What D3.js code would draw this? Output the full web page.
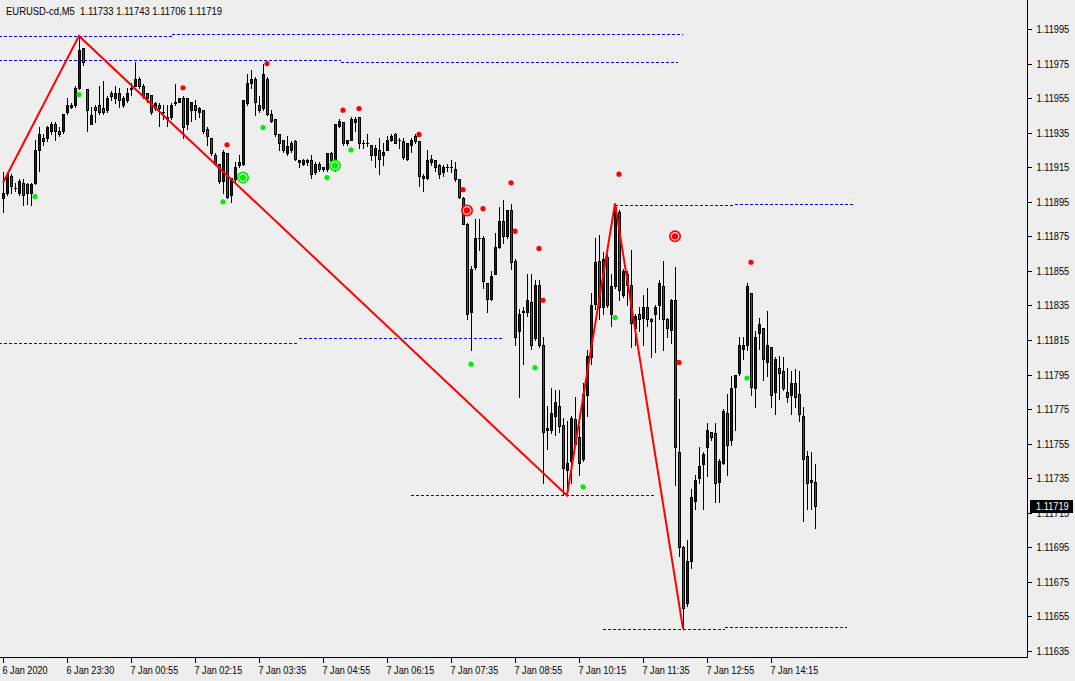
<!DOCTYPE html>
<html><head><meta charset="utf-8">
<script src="https://cdn.jsdelivr.net/npm/d3@7"></script>
<style>
html,body{margin:0;padding:0;background:#eeeeee;}
svg{display:block;}
text{font-family:"Liberation Sans",Arial,sans-serif;font-size:11px;fill:#000;}
</style></head><body>
<svg id="c" width="1075" height="681"></svg>
<script>
const symbol = "EURUSD-cd,M5";
const headerOHLC = [1.11733, 1.11743, 1.11706, 1.11719];
const timeLabels = ["6 Jan 2020","6 Jan 23:30","7 Jan 00:55","7 Jan 02:15","7 Jan 03:35","7 Jan 04:55","7 Jan 06:15","7 Jan 07:35","7 Jan 08:55","7 Jan 10:15","7 Jan 11:35","7 Jan 12:55","7 Jan 14:15"];
const timeLabelBars = [0,16,32,48,64,80,96,112,128,144,160,176,192];
const priceTicks = [1.11635,1.11655,1.11675,1.11695,1.11715,1.11735,1.11755,1.11775,1.11795,1.11815,1.11835,1.11855,1.11875,1.11895,1.11915,1.11935,1.11955,1.11975,1.11995];

const open = [
1.11897,1.11900,1.11910,1.11903,1.11900,1.11906,1.11905,1.11900,1.11906,1.11925,
1.11932,1.11932,1.11936,1.11940,1.11936,1.11936,1.11947,1.11950,1.11951,1.11961,
1.11984,1.11960,1.11940,1.11950,1.11951,1.11949,1.11948,1.11958,1.11955,1.11958,
1.11951,1.11954,1.11960,1.11962,1.11966,1.11962,1.11958,1.11957,1.11949,1.11951,
1.11947,1.11944,1.11944,1.11952,1.11953,1.11955,1.11940,1.11948,1.11951,1.11947,
1.11948,1.11937,1.11932,1.11922,1.11917,1.11907,1.11923,1.11899,1.11908,1.11916,
1.11917,1.11952,1.11964,1.11966,1.11951,1.11949,1.11966,1.11946,1.11943,1.11934,
1.11931,1.11923,1.11925,1.11930,1.11919,1.11917,1.11919,1.11919,1.11912,1.11917,
1.11914,1.11914,1.11923,1.11914,1.11939,1.11941,1.11929,1.11931,1.11941,1.11944,
1.11929,1.11929,1.11928,1.11922,1.11925,1.11922,1.11925,1.11931,1.11934,1.11931,
1.11930,1.11920,1.11928,1.11933,1.11930,1.11909,1.11909,1.11918,1.11919,1.11916,
1.11912,1.11915,1.11915,1.11914,1.11908,1.11897,1.11882,1.11831,1.11857,1.11874,
1.11874,1.11848,1.11839,1.11853,1.11869,1.11884,1.11875,1.11890,1.11861,1.11820,
1.11832,1.11831,1.11837,1.11816,1.11847,1.11812,1.11763,1.11763,1.11771,1.11777,
1.11766,1.11740,1.11745,1.11769,1.11759,1.11746,1.11783,1.11805,1.11836,1.11861,
1.11834,1.11863,1.11830,1.11846,1.11889,1.11841,1.11853,1.11847,1.11822,1.11830,
1.11828,1.11834,1.11827,1.11830,1.11835,1.11846,1.11827,1.11821,1.11838,1.11750,
1.11695,1.11663,1.11687,1.11722,1.11735,1.11743,1.11753,1.11762,1.11761,1.11733,
1.11744,1.11773,1.11757,1.11788,1.11796,1.11810,1.11812,1.11842,1.11787,1.11819,
1.11822,1.11802,1.11811,1.11785,1.11799,1.11797,1.11785,1.11783,1.11790,1.11784,
1.11771,1.11748,1.11734,1.11733];
const high = [
1.11912,1.11912,1.11911,1.11906,1.11908,1.11908,1.11906,1.11906,1.11931,1.11938,
1.11934,1.11939,1.11941,1.11941,1.11938,1.11946,1.11955,1.11952,1.11962,1.11991,
1.11984,1.11960,1.11950,1.11951,1.11962,1.11965,1.11956,1.11959,1.11962,1.11961,
1.11956,1.11961,1.11964,1.11976,1.11967,1.11963,1.11958,1.11957,1.11953,1.11952,
1.11951,1.11951,1.11952,1.11963,1.11955,1.11956,1.11955,1.11953,1.11954,1.11950,
1.11948,1.11938,1.11932,1.11923,1.11917,1.11925,1.11923,1.11909,1.11918,1.11922,
1.11954,1.11969,1.11971,1.11967,1.11956,1.11975,1.11967,1.11948,1.11943,1.11934,
1.11931,1.11933,1.11930,1.11931,1.11919,1.11920,1.11920,1.11922,1.11918,1.11918,
1.11915,1.11923,1.11924,1.11940,1.11943,1.11941,1.11931,1.11944,1.11944,1.11944,
1.11931,1.11934,1.11928,1.11928,1.11932,1.11929,1.11933,1.11934,1.11935,1.11932,
1.11932,1.11929,1.11932,1.11934,1.11930,1.11911,1.11925,1.11922,1.11919,1.11917,
1.11916,1.11917,1.11919,1.11918,1.11908,1.11898,1.11883,1.11858,1.11885,1.11885,
1.11875,1.11848,1.11855,1.11877,1.11892,1.11896,1.11890,1.11894,1.11862,1.11833,
1.11834,1.11853,1.11853,1.11850,1.11850,1.11817,1.11777,1.11787,1.11786,1.11786,
1.11770,1.11768,1.11771,1.11782,1.11765,1.11790,1.11809,1.11842,1.11874,1.11876,
1.11866,1.11865,1.11853,1.11894,1.11890,1.11856,1.11855,1.11867,1.11830,1.11834,
1.11841,1.11845,1.11828,1.11835,1.11850,1.11861,1.11828,1.11839,1.11857,1.11781,
1.11696,1.11699,1.11729,1.11737,1.11753,1.11750,1.11767,1.11762,1.11767,1.11746,
1.11775,1.11784,1.11794,1.11795,1.11817,1.11817,1.11848,1.11842,1.11820,1.11828,
1.11822,1.11832,1.11811,1.11805,1.11806,1.11805,1.11799,1.11797,1.11798,1.11797,
1.11776,1.11751,1.11750,1.11743];
const low = [
1.11889,1.11899,1.11900,1.11901,1.11899,1.11893,1.11894,1.11893,1.11905,1.11913,
1.11928,1.11930,1.11934,1.11931,1.11933,1.11935,1.11946,1.11949,1.11950,1.11960,
1.11974,1.11936,1.11940,1.11941,1.11946,1.11946,1.11947,1.11954,1.11952,1.11950,
1.11950,1.11953,1.11957,1.11962,1.11961,1.11955,1.11953,1.11946,1.11948,1.11939,
1.11943,1.11939,1.11943,1.11951,1.11953,1.11932,1.11937,1.11942,1.11943,1.11944,
1.11935,1.11928,1.11922,1.11916,1.11906,1.11900,1.11897,1.11895,1.11906,1.11915,
1.11916,1.11951,1.11961,1.11945,1.11947,1.11948,1.11945,1.11941,1.11933,1.11925,
1.11924,1.11922,1.11924,1.11919,1.11915,1.11916,1.11916,1.11909,1.11911,1.11913,
1.11913,1.11913,1.11918,1.11913,1.11938,1.11928,1.11928,1.11931,1.11936,1.11926,
1.11926,1.11927,1.11919,1.11915,1.11911,1.11916,1.11925,1.11930,1.11929,1.11926,
1.11920,1.11919,1.11924,1.11929,1.11904,1.11901,1.11908,1.11916,1.11913,1.11909,
1.11910,1.11913,1.11912,1.11907,1.11897,1.11882,1.11827,1.11809,1.11856,1.11867,
1.11845,1.11831,1.11838,1.11853,1.11868,1.11871,1.11874,1.11856,1.11812,1.11782,
1.11801,1.11829,1.11810,1.11815,1.11811,1.11732,1.11752,1.11761,1.11760,1.11762,
1.11726,1.11725,1.11732,1.11754,1.11737,1.11745,1.11771,1.11801,1.11833,1.11827,
1.11830,1.11834,1.11823,1.11845,1.11838,1.11840,1.11835,1.11811,1.11812,1.11820,
1.11812,1.11823,1.11805,1.11808,1.11827,1.11809,1.11817,1.11813,1.11731,1.11690,
1.11648,1.11661,1.11683,1.11717,1.11732,1.11717,1.11736,1.11757,1.11721,1.11721,
1.11743,1.11737,1.11754,1.11763,1.11795,1.11804,1.11809,1.11783,1.11776,1.11810,
1.11792,1.11794,1.11776,1.11772,1.11781,1.11786,1.11779,1.11772,1.11776,1.11768,
1.11710,1.11717,1.11717,1.11706];
const close = [
1.11900,1.11911,1.11904,1.11903,1.11907,1.11899,1.11900,1.11905,1.11925,1.11934,
1.11930,1.11938,1.11940,1.11936,1.11934,1.11946,1.11951,1.11951,1.11961,1.11983,
1.11976,1.11948,1.11945,1.11948,1.11947,1.11947,1.11955,1.11956,1.11958,1.11954,
1.11955,1.11958,1.11961,1.11966,1.11962,1.11956,1.11955,1.11947,1.11952,1.11949,
1.11947,1.11943,1.11951,1.11953,1.11955,1.11938,1.11955,1.11953,1.11948,1.11949,
1.11936,1.11933,1.11923,1.11917,1.11907,1.11924,1.11898,1.11909,1.11915,1.11918,
1.11954,1.11964,1.11966,1.11953,1.11948,1.11969,1.11946,1.11942,1.11934,1.11929,
1.11925,1.11927,1.11929,1.11920,1.11918,1.11919,1.11918,1.11911,1.11917,1.11914,
1.11915,1.11923,1.11919,1.11940,1.11942,1.11929,1.11931,1.11943,1.11943,1.11929,
1.11929,1.11929,1.11922,1.11926,1.11920,1.11924,1.11931,1.11933,1.11929,1.11931,
1.11921,1.11929,1.11931,1.11930,1.11910,1.11910,1.11919,1.11920,1.11915,1.11911,
1.11915,1.11915,1.11915,1.11908,1.11898,1.11882,1.11830,1.11856,1.11874,1.11874,
1.11849,1.11839,1.11852,1.11869,1.11884,1.11875,1.11890,1.11860,1.11817,1.11830,
1.11831,1.11838,1.11812,1.11847,1.11812,1.11762,1.11764,1.11773,1.11779,1.11765,
1.11741,1.11744,1.11770,1.11755,1.11744,1.11784,1.11806,1.11835,1.11860,1.11834,
1.11862,1.11835,1.11846,1.11892,1.11844,1.11855,1.11847,1.11825,1.11829,1.11827,
1.11834,1.11827,1.11826,1.11834,1.11848,1.11827,1.11822,1.11838,1.11753,1.11695,
1.11660,1.11687,1.11724,1.11734,1.11742,1.11749,1.11763,1.11759,1.11732,1.11745,
1.11774,1.11754,1.11787,1.11795,1.11812,1.11812,1.11846,1.11788,1.11817,1.11824,
1.11804,1.11812,1.11783,1.11804,1.11796,1.11787,1.11782,1.11790,1.11782,1.11772,
1.11746,1.11732,1.11733,1.11719];

// zigzag turning points: bar index, price
const zigzagBars = [0, 19, 141, 153, 170];
const zigzagPrices = [1.11906, 1.11991, 1.11725, 1.11894, 1.11648];

// signal markers: bar index, price
const buyDotBars = [8, 19, 55, 65, 81, 87, 117, 133, 145, 153, 186];
const buyDotPrices = [1.11898, 1.11957, 1.11895, 1.11938, 1.11909, 1.11925, 1.11801, 1.11799, 1.11730, 1.11828, 1.11793];
const buyRingBars = [60, 83];
const buyRingPrices = [1.11909, 1.11916];
const sellDotBars = [45, 56, 66, 85, 89, 104, 115, 120, 127, 128, 134, 135, 154, 169, 187];
const sellDotPrices = [1.11961, 1.11928, 1.11975, 1.11948, 1.11949, 1.11934, 1.11902, 1.11891, 1.11906, 1.11878, 1.11868, 1.11838, 1.11911, 1.11802, 1.11860];
const sellRingBars = [116, 168];
const sellRingPrices = [1.11890, 1.11875];

// dashed level segments: start bar, end bar, price
const levelStart = [-1, 42.3, -1, 84.5, -1, 74, 102, 132, 153, 183, 150, 180.5];
const levelEnd   = [42.3, 170, 84.5, 168.8, 74, 124.8, 132, 163, 183, 213, 180.5, 211];
const levelPrice = [1.11991, 1.11992, 1.11977, 1.11976, 1.11813, 1.11816, 1.11725, 1.11725, 1.11893, 1.11894, 1.11648, 1.11649];

const W = 1075, H = 681, plotR = 1027, plotB = 657;
const svg = d3.select("#c");
svg.append("rect").attr("width", W).attr("height", H).attr("fill", "#eeeeee");

const x = d3.scaleLinear().domain([0, 203]).range([3, 815]);
const y = d3.scaleLinear().domain([1.11635, 1.11995]).range([651, 29]);

const squish = (sel, f) => sel.each(function () {
  const w = this.getComputedTextLength();
  d3.select(this).attr("textLength", w * f).attr("lengthAdjust", "spacingAndGlyphs");
});

const plot = svg.append("g");
plot.append("clipPath").attr("id", "clip").append("rect").attr("x", 0).attr("y", 0).attr("width", plotR).attr("height", plotB);
const g = plot.append("g").attr("clip-path", "url(#clip)");

// levels
const levels = levelStart.map((s, k) => ({s, e: levelEnd[k], p: levelPrice[k]}));
g.selectAll("line.lvl").data(levels).join("line")
  .attr("x1", d => x(d.s)).attr("x2", d => x(d.e))
  .attr("y1", d => Math.round(y(d.p)) + 0.5).attr("y2", d => Math.round(y(d.p)) + 0.5)
  .attr("stroke", "#0000f0").attr("stroke-width", 1).attr("stroke-dasharray", "3,2")
  .attr("shape-rendering", "crispEdges");

// candles
const bars = open.map((o, i) => ({i, o, h: high[i], l: low[i], c: close[i]}));
const cg = g.append("g");
bars.forEach(d => {
  const cx = Math.round(x(d.i));
  cg.append("line").attr("x1", cx + 0.5).attr("x2", cx + 0.5)
    .attr("y1", Math.round(y(d.h))).attr("y2", Math.round(y(d.l)) + 1)
    .attr("stroke", "#000").attr("shape-rendering", "crispEdges");
  const yt = Math.round(y(Math.max(d.o, d.c))), yb = Math.round(y(Math.min(d.o, d.c)));
  if (yb - yt < 1) {
    cg.append("line").attr("x1", cx - 1).attr("x2", cx + 2).attr("y1", yt + 0.5).attr("y2", yt + 0.5)
      .attr("stroke", "#000").attr("shape-rendering", "crispEdges");
  } else {
    cg.append("rect").attr("x", cx - 0.5).attr("y", yt + 0.5).attr("width", 2).attr("height", yb - yt)
      .attr("fill", d.c >= d.o ? "#0000ff" : "#ff0000").attr("stroke", "#000").attr("stroke-width", 1)
      .attr("shape-rendering", "crispEdges");
  }
});

// zigzag
const zz = zigzagBars.map((b, k) => [x(b), y(zigzagPrices[k])]);
g.append("path").attr("d", d3.line()(zz)).attr("fill", "none").attr("stroke", "#ff0000").attr("stroke-width", 2);

// markers
const dots = (bs, ps, col) => g.append("g").selectAll("circle").data(bs.map((b, k) => [b, ps[k]])).join("circle")
  .attr("cx", d => x(d[0])).attr("cy", d => y(d[1])).attr("r", 2.6).attr("fill", col);
dots(buyDotBars, buyDotPrices, "#00ee00");
dots(sellDotBars, sellDotPrices, "#ff0000");
const rings = (bs, ps, col, inner) => {
  const rg = g.append("g").selectAll("g").data(bs.map((b, k) => [b, ps[k]])).join("g")
    .attr("transform", d => `translate(${x(d[0])},${y(d[1])})`);
  rg.append("circle").attr("r", 6).attr("fill", col);
  rg.append("circle").attr("r", 4.3).attr("fill", inner);
  rg.append("circle").attr("r", 3.2).attr("fill", col);
};
rings(buyRingBars, buyRingPrices, "#00ee00", "#d8ffd8");
rings(sellRingBars, sellRingPrices, "#ff0000", "#ffe8e8");

// frame
svg.append("line").attr("x1", plotR + 0.5).attr("x2", plotR + 0.5).attr("y1", 0).attr("y2", plotB + 1).attr("stroke", "#000").attr("shape-rendering", "crispEdges");
svg.append("line").attr("x1", 0).attr("x2", plotR + 1).attr("y1", plotB + 0.5).attr("y2", plotB + 0.5).attr("stroke", "#000").attr("shape-rendering", "crispEdges");

// right price axis
const ya = svg.append("g").attr("transform", `translate(${plotR + 0.5},0)`)
  .call(d3.axisRight(y).tickValues(priceTicks).tickFormat(d3.format(".5f")).tickSize(4).tickPadding(5));
ya.select(".domain").remove();
ya.selectAll("line").attr("stroke", "#000").attr("shape-rendering", "crispEdges");
ya.selectAll("text").attr("font-size", 11).attr("font-family", null).attr("fill", "#000");
squish(ya.selectAll("text"), 0.84);

// current price label
const yc = Math.round(y(headerOHLC[3]));
svg.append("rect").attr("x", plotR + 3).attr("y", yc - 6).attr("width", 43).attr("height", 13).attr("fill", "#000");
const cp = svg.append("text").attr("x", plotR + 9).attr("y", yc + 4).style("fill", "#fff").text(d3.format(".5f")(headerOHLC[3]));
squish(cp, 0.84);

// bottom time axis
const xa = svg.append("g").attr("transform", `translate(0,${plotB + 0.5})`)
  .call(d3.axisBottom(x).tickValues(timeLabelBars).tickFormat((d, k) => timeLabels[k]).tickSize(5).tickPadding(4));
xa.select(".domain").remove();
xa.selectAll("line").attr("stroke", "#000").attr("shape-rendering", "crispEdges");
xa.selectAll("text").attr("text-anchor", "start").attr("x", -1).attr("font-size", 11).attr("font-family", null).attr("fill", "#000");
squish(xa.selectAll("text"), 0.83);

// header
const hd = svg.append("text").attr("x", 6).attr("y", 15).attr("xml:space", "preserve")
  .text(symbol + "  " + headerOHLC.map(d3.format(".5f")).join(" "));
squish(hd, 0.86);
</script>
</body></html>
